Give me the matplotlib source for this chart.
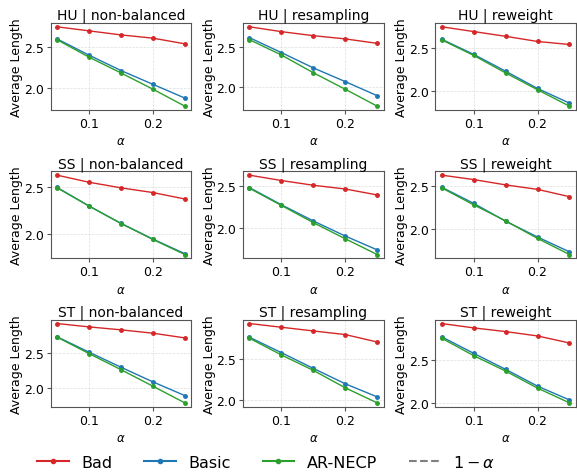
import matplotlib
matplotlib.use("Agg")
import matplotlib.pyplot as plt
from matplotlib.lines import Line2D
from matplotlib.ticker import MultipleLocator

alphas = [0.05, 0.10, 0.15, 0.20, 0.25]
datasets = ["HU", "SS", "ST"]
settings = ["non-balanced", "resampling", "reweight"]
methods = ["Bad", "Basic", "AR-NECP"]
colors = ["#d62728", "#1f77b4", "#2ca02c"]

# HU
hu_nonbal_bad = [2.75, 2.70, 2.65, 2.61, 2.54]
hu_nonbal_basic = [2.60, 2.40, 2.21, 2.04, 1.87]
hu_nonbal_ar = [2.59, 2.375, 2.18, 1.98, 1.77]
hu_resamp_bad = [2.75, 2.69, 2.64, 2.60, 2.545]
hu_resamp_basic = [2.615, 2.43, 2.24, 2.07, 1.895]
hu_resamp_ar = [2.59, 2.40, 2.18, 1.975, 1.765]
hu_rew_bad = [2.75, 2.695, 2.64, 2.58, 2.545]
hu_rew_basic = [2.605, 2.43, 2.235, 2.035, 1.865]
hu_rew_ar = [2.598, 2.418, 2.215, 2.02, 1.83]
# SS
ss_nonbal_bad = [2.62, 2.545, 2.486, 2.436, 2.368]
ss_nonbal_basic = [2.49, 2.293, 2.11, 1.943, 1.789]
ss_nonbal_ar = [2.486, 2.293, 2.108, 1.94, 1.78]
ss_resamp_bad = [2.623, 2.56, 2.504, 2.46, 2.39]
ss_resamp_basic = [2.476, 2.274, 2.083, 1.905, 1.742]
ss_resamp_ar = [2.468, 2.266, 2.063, 1.873, 1.687]
ss_rew_bad = [2.625, 2.574, 2.512, 2.46, 2.375]
ss_rew_basic = [2.484, 2.297, 2.09, 1.906, 1.734]
ss_rew_ar = [2.477, 2.28, 2.094, 1.89, 1.703]
# ST
st_nonbal_bad = [2.919, 2.871, 2.829, 2.781, 2.714]
st_nonbal_basic = [2.729, 2.51, 2.295, 2.086, 1.89]
st_nonbal_ar = [2.724, 2.49, 2.26, 2.024, 1.786]
st_resamp_bad = [2.927, 2.882, 2.837, 2.793, 2.703]
st_resamp_basic = [2.76, 2.573, 2.382, 2.195, 2.036]
st_resamp_ar = [2.748, 2.545, 2.358, 2.146, 1.963]
st_rew_bad = [2.922, 2.871, 2.828, 2.777, 2.695]
st_rew_basic = [2.766, 2.574, 2.387, 2.191, 2.03]
st_rew_ar = [2.75, 2.547, 2.367, 2.168, 1.996]

data = {
    ("HU", "non-balanced"): [hu_nonbal_bad, hu_nonbal_basic, hu_nonbal_ar],
    ("HU", "resampling"): [hu_resamp_bad, hu_resamp_basic, hu_resamp_ar],
    ("HU", "reweight"): [hu_rew_bad, hu_rew_basic, hu_rew_ar],
    ("SS", "non-balanced"): [ss_nonbal_bad, ss_nonbal_basic, ss_nonbal_ar],
    ("SS", "resampling"): [ss_resamp_bad, ss_resamp_basic, ss_resamp_ar],
    ("SS", "reweight"): [ss_rew_bad, ss_rew_basic, ss_rew_ar],
    ("ST", "non-balanced"): [st_nonbal_bad, st_nonbal_basic, st_nonbal_ar],
    ("ST", "resampling"): [st_resamp_bad, st_resamp_basic, st_resamp_ar],
    ("ST", "reweight"): [st_rew_bad, st_rew_basic, st_rew_ar],
}

fig, axes = plt.subplots(3, 3, figsize=(5.77, 4.77), dpi=100)
fig.subplots_adjust(left=0.088, right=0.998, top=0.950, bottom=0.145,
                    wspace=0.37, hspace=0.70)

for i, ds in enumerate(datasets):
    for j, st in enumerate(settings):
        ax = axes[i, j]
        for series, c in zip(data[(ds, st)], colors):
            ax.plot(alphas, series, color=c, marker="o", markersize=2.5, linewidth=1.0)
        ax.set_title(f"{ds} | {st}", fontsize=10, pad=3)
        ax.set_xlabel(r"$\alpha$", fontsize=8.5, labelpad=3)
        ax.set_ylabel("Average Length", fontsize=9, labelpad=0.5)
        ax.xaxis.set_major_locator(MultipleLocator(0.1))
        ax.yaxis.set_major_locator(MultipleLocator(0.5))
        ax.tick_params(labelsize=9, length=3, width=0.8, pad=2, color="#555555")
        ax.grid(True, linestyle="--", linewidth=0.5, color="#dddddd")
        for sp in ax.spines.values():
            sp.set_color("#555555")
            sp.set_linewidth(0.8)

handles = [Line2D([], [], color=c, marker="o", markersize=3, linewidth=1.5) for c in colors]
handles.append(Line2D([], [], color="gray", linestyle="--", linewidth=1.5))
labels = methods + [r"$1-\alpha$"]
fig.legend(handles, labels, loc="center", bbox_to_anchor=(0.461, 0.030), ncol=4,
           frameon=False, fontsize=11.5, handlelength=2.0, columnspacing=2.0, handletextpad=0.75)

fig.savefig("out.png", dpi=100)
